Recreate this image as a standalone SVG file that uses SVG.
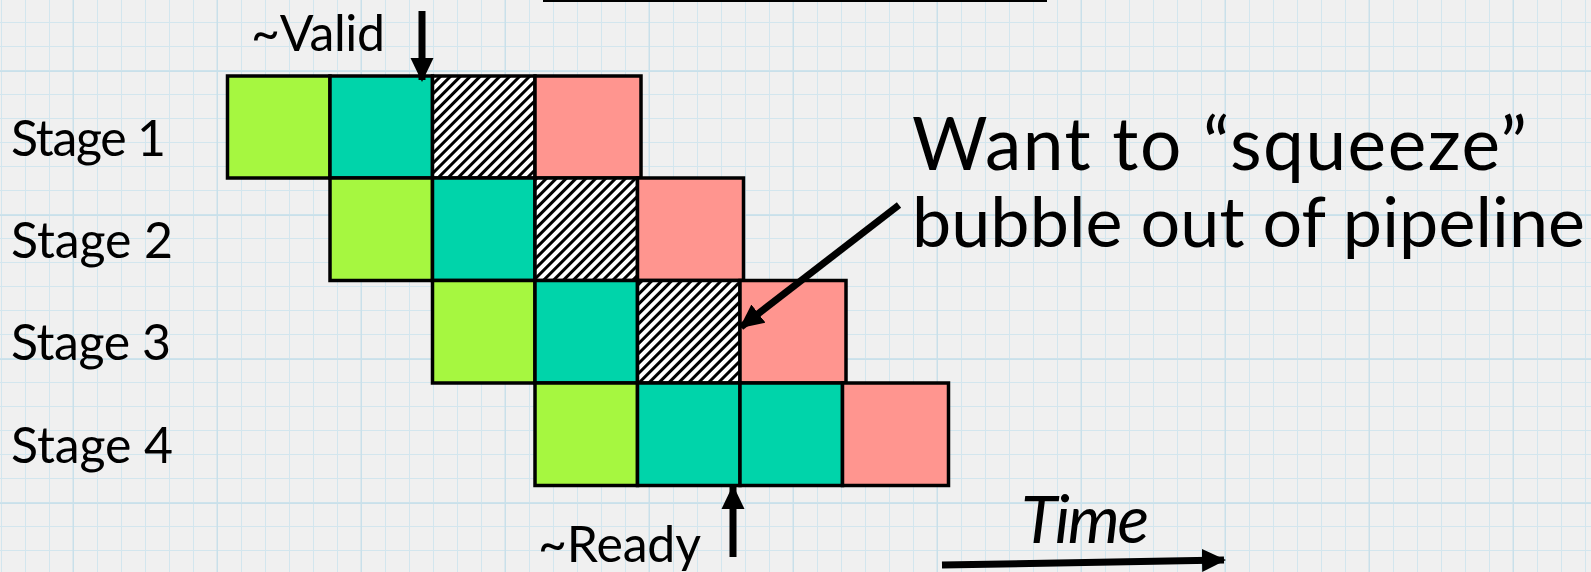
<svg xmlns="http://www.w3.org/2000/svg" width="1591" height="572" viewBox="0 0 1591 572">
  <defs>
    <pattern id="grid" x="2" y="-1" width="24" height="24" patternUnits="userSpaceOnUse">
      <path d="M24 0V24M0 24H24" stroke="#d3e6ee" stroke-width="2" fill="none"/>
    </pattern>
    <pattern id="gridMajor" x="-70" y="-72" width="144" height="144" patternUnits="userSpaceOnUse">
      <path d="M144 0V144M0 144H144" stroke="#c9e0ea" stroke-width="3" fill="none"/>
    </pattern>
    <pattern id="hatch" width="7" height="7" patternUnits="userSpaceOnUse" patternTransform="rotate(45)">
      <rect width="7" height="7" fill="#ffffff"/>
      <rect width="3" height="7" fill="#000000"/>
    </pattern>
    <marker id="head" viewBox="0 0 24 24" markerWidth="24" markerHeight="24" refX="22" refY="12" orient="auto" markerUnits="userSpaceOnUse">
      <path d="M0 0.5 L24 12 L0 23.5 Z" fill="#000"/>
    </marker>
  </defs>
  <style>
    .cell { stroke: #000; stroke-width: 3.5; }
    .g { fill: #a6f740; }
    .t { fill: #00d4aa; }
    .h { fill: url(#hatch); }
    .r { fill: #ff958f; }
    .lbl { font-family: Lato, "Open Sans", sans-serif; fill: #000; }
    .arrow { stroke: #000; stroke-width: 7; fill: none; marker-end: url(#head); }
  </style>

  <rect width="1591" height="572" fill="#f0f0f0"/>
  <rect width="1591" height="572" fill="url(#grid)"/>
  <rect width="1591" height="572" fill="url(#gridMajor)"/>

  <!-- cut-off title rule at the top -->
  <rect x="543" y="-1" width="504" height="3" fill="#000"/>

  <!-- Stage 1 row -->
  <g id="row1">
    <rect class="cell g" x="227.5" y="76" width="102.5" height="102"/>
    <rect class="cell t" x="330" y="76" width="102.5" height="102"/>
    <rect class="cell h" x="432.5" y="76" width="102.5" height="102"/>
    <rect class="cell r" x="535" y="76" width="106" height="102"/>
  </g>
  <!-- Stage 2 row -->
  <g id="row2">
    <rect class="cell g" x="330" y="178" width="102.5" height="102.5"/>
    <rect class="cell t" x="432.5" y="178" width="102.5" height="102.5"/>
    <rect class="cell h" x="535" y="178" width="102.5" height="102.5"/>
    <rect class="cell r" x="637.5" y="178" width="106" height="102.5"/>
  </g>
  <!-- Stage 3 row -->
  <g id="row3">
    <rect class="cell g" x="432.5" y="280.5" width="102.5" height="102.5"/>
    <rect class="cell t" x="535" y="280.5" width="102.5" height="102.5"/>
    <rect class="cell h" x="637.5" y="280.5" width="102.5" height="102.5"/>
    <rect class="cell r" x="740" y="280.5" width="106" height="102.5"/>
  </g>
  <!-- Stage 4 row -->
  <g id="row4">
    <rect class="cell g" x="535" y="383" width="102.5" height="102.5"/>
    <rect class="cell t" x="637.5" y="383" width="102.5" height="102.5"/>
    <rect class="cell t" x="740" y="383" width="102.5" height="102.5"/>
    <rect class="cell r" x="842.5" y="383" width="106" height="102.5"/>
  </g>

  <g id="stage-labels">
    <text id="stage1" class="lbl" x="11" y="156" font-size="50" textLength="155">Stage 1</text>
    <text id="stage2" class="lbl" x="11" y="258" font-size="50" textLength="162">Stage 2</text>
    <text id="stage3" class="lbl" x="11" y="360" font-size="50" textLength="160">Stage 3</text>
    <text id="stage4" class="lbl" x="11" y="463" font-size="50" textLength="162">Stage 4</text>
  </g>

  <g id="valid-label"><text class="lbl" x="251" y="51" font-size="50" textLength="134">~Valid</text></g>
  <g id="ready-label"><text class="lbl" x="538" y="562" font-size="50" textLength="163">~Ready</text></g>
  <g id="squeeze-note">
    <text class="lbl" x="912" y="170" font-size="73" textLength="615">Want to “squeeze”</text>
    <text class="lbl" x="912" y="247" font-size="70" textLength="673">bubble out of pipeline</text>
  </g>
  <g id="time-label"><text class="lbl" x="1021" y="543" font-size="66" font-style="italic" textLength="128">Time</text></g>

  <g id="connectors">
    <line class="arrow" x1="422" y1="11" x2="422" y2="80"/>
    <line class="arrow" x1="733" y1="557" x2="733" y2="487"/>
    <line class="arrow" x1="899" y1="205" x2="741" y2="327"/>
    <line class="arrow" x1="942" y1="565" x2="1224" y2="560" stroke-width="8"/>
  </g>
</svg>
